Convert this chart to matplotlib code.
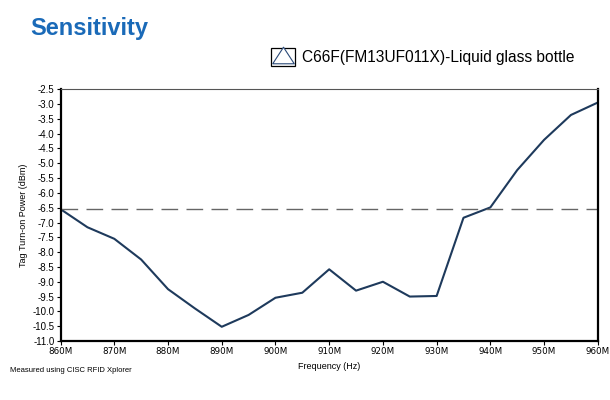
import matplotlib
matplotlib.use("Agg")
import matplotlib.pyplot as plt
from matplotlib.lines import Line2D
from matplotlib.patches import Rectangle

# sensitivity sweep
freq_mhz = [860, 865, 870, 875, 880, 885, 890, 895, 900, 905, 910,
            915, 920, 925, 930, 935, 940, 945, 950, 955, 960]
turn_on_dbm = [-6.55, -7.16, -7.55, -8.25, -9.25, -9.9, -10.52, -10.12, -9.54, -9.37, -8.58,
               -9.3, -9.0, -9.5, -9.48, -6.84, -6.49, -5.23, -4.21, -3.37, -2.95]
ref_level = -6.55

yticks = [-2.5 - 0.5 * i for i in range(18)]
xticks = list(range(860, 961, 10))
xticklabels = [str(f) + "M" for f in xticks]
series_name = "C66F(FM13UF011X)-Liquid glass bottle"

plt.rcParams['font.family'] = ['Liberation Sans', 'DejaVu Sans']

fig = plt.figure(figsize=(6.1, 4.0), dpi=100)
ax = fig.add_axes([0.0993, 0.1475, 0.8807, 0.6295])

line_col = "#1e3a5c"
ax.plot(freq_mhz, turn_on_dbm, color=line_col, lw=1.5)
ax.axhline(ref_level, color="#666666", lw=1.0, dashes=(12, 6))

ax.set_xlim(860, 960)
ax.set_ylim(-11.0, -2.5)
ax.set_yticks(yticks)
ax.set_yticklabels(["%.1f" % v for v in yticks], fontsize=7)
ax.set_xticks(xticks)
ax.set_xticklabels(xticklabels, family="DejaVu Sans", fontsize=6.3)
ax.tick_params(axis="both", length=3, width=0.8, direction="out", pad=1.5)

for s in ("left", "bottom", "right"):
    ax.spines[s].set_color("black")
    ax.spines[s].set_linewidth(1.6)
ax.spines["top"].set_color("#555555")
ax.spines["top"].set_linewidth(0.8)

ax.set_ylabel("Tag Turn-on Power (dBm)", fontsize=6.5, labelpad=3)
ax.set_xlabel("Frequency (Hz)", fontsize=6.5, labelpad=4)

fig.text(0.049, 0.93, "Sensitivity", color="#1a6ab8", fontsize=17, fontweight="bold",
         va="center", ha="left")
fig.text(0.017, 0.075, "Measured using CISC RFID Xplorer", fontsize=5.5, va="center", ha="left")

# legend key: framed box with a wide open triangle inside
box = Rectangle((0, 0), 1, 1, facecolor="white", edgecolor="black", linewidth=0.9)
wide_tri = [(-1.3, -1), (1.3, -1), (0, 1), (-1.3, -1)]
tri = Line2D([], [], marker=wide_tri, markersize=15.5, markerfacecolor="white",
             markeredgecolor="#2b4a78", markeredgewidth=0.8, linestyle="none")
leg = fig.legend([(box, tri)], [series_name], loc="center left", bbox_to_anchor=(0.444, 0.8575),
                 frameon=False, fontsize=11.2, handlelength=1.55, handleheight=1.4,
                 handletextpad=0.45, borderpad=0, borderaxespad=0)

fig.savefig("out.png", dpi=100)
